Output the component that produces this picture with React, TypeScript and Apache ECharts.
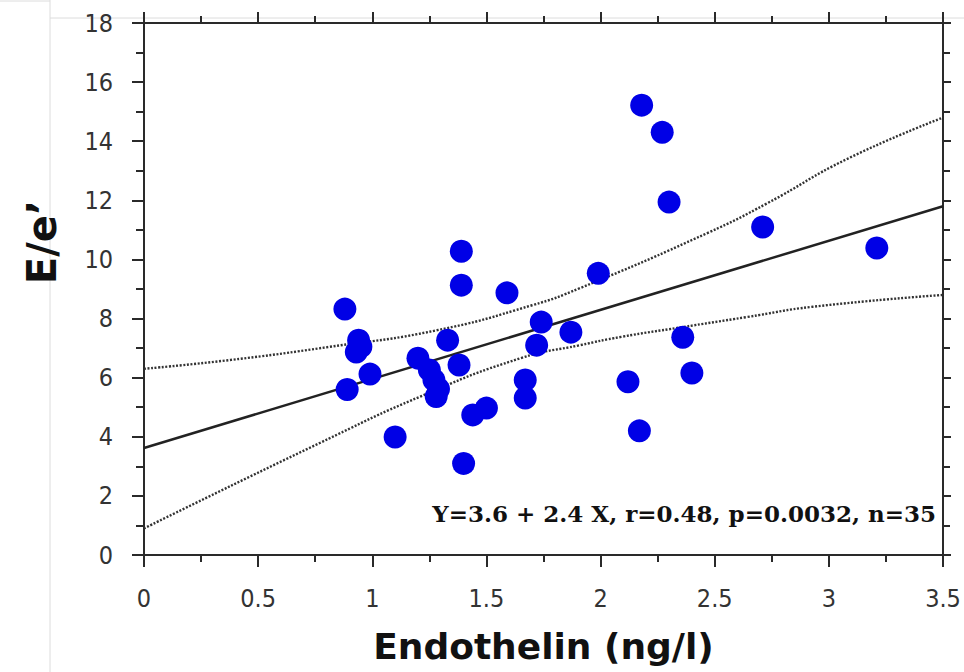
import React, { useEffect, useRef } from "react";
import * as echarts from "echarts";

// Scatter data: Endothelin (ng/l) vs E/e'
const endothelin = [
  0.88, 0.94, 0.93, 0.99, 0.89, 1.1, 1.39, 1.39, 1.59, 1.99,
  1.33, 1.2, 1.25, 1.27, 1.28, 1.29, 1.38, 1.44, 1.5, 1.4,
  1.74, 1.72, 1.87, 1.67, 1.67, 2.12, 2.18, 2.27, 2.3, 2.71,
  3.21, 2.36, 2.4, 2.17, 0.95,
];
const eOverE = [
  8.32, 7.27, 6.87, 6.12, 5.6, 3.99, 10.28, 9.13, 8.87, 9.53,
  7.27, 6.66, 6.26, 5.92, 5.36, 5.62, 6.43, 4.74, 4.97, 3.1,
  7.88, 7.1, 7.54, 5.92, 5.31, 5.86, 15.22, 14.3, 11.94, 11.1,
  10.39, 7.37, 6.16, 4.2, 7.05,
];

// Regression line end points
const fitX = [0, 3.5];
const fitY = [3.62, 11.8];

// Confidence band
const upperX = [0, 0.38, 0.81, 1.28, 1.7, 1.91, 2.47, 2.73, 3.08, 3.5];
const upperY = [6.3, 6.6, 7.04, 7.6, 8.45, 9.03, 10.9, 11.9, 13.4, 14.8];
const lowerX = [0, 0.77, 1.21, 1.65, 1.91, 2.09, 2.35, 2.64, 2.93, 3.5];
const lowerY = [0.9, 3.79, 5.36, 6.66, 7.1, 7.38, 7.7, 8.05, 8.4, 8.8];

const xMin = 0;
const xMax = 3.5;
const xStep = 0.5;
const yMin = 0;
const yMax = 18;
const yStep = 2;

const xTitle = "Endothelin (ng/l)";
const yTitle = "E/e\u2019";
const note = "Y=3.6 + 2.4 X, r=0.48, p=0.0032, n=35";

const zip = (a: number[], b: number[]) => a.map((v, i) => [v, b[i]]);

export default function App() {
  const ref = useRef<HTMLDivElement>(null);
  useEffect(() => {
    if (!ref.current) return;
    const chart = echarts.init(ref.current, undefined, { renderer: "svg" });
    const axisColor = "#2a2a2a";
    const labelFont = {
      color: "#333",
      fontSize: 25,
      fontFamily: "'Liberation Sans Narrow', 'DejaVu Sans Condensed', sans-serif",
    };
    const tick = { show: true, inside: false, length: 12, lineStyle: { color: axisColor, width: 2 } };
    const minor = { show: true, splitNumber: 2, length: 7, lineStyle: { color: axisColor, width: 2 } };
    const line = { show: true, onZero: false, lineStyle: { color: axisColor, width: 2 } };
    const band = { color: "#333", width: 2.4, type: [2, 1.6] };
    chart.setOption({
      animation: false,
      backgroundColor: "#fff",
      grid: { left: 144, right: 21, top: 23, bottom: 117, outerBoundsMode: "none", containLabel: false },
      xAxis: [
        {
          type: "value", min: xMin, max: xMax, interval: xStep, position: "bottom",
          axisLine: line, axisTick: tick, minorTick: minor, splitLine: { show: false },
          axisLabel: { ...labelFont, margin: 31 },
          name: xTitle, nameLocation: "middle", nameGap: 73,
          nameTextStyle: { fontFamily: "'DejaVu Sans', sans-serif", fontWeight: "bold", fontSize: 36, color: "#111" },
        },
        {
          type: "value", min: xMin, max: xMax, interval: xStep, position: "top",
          axisLine: line, axisTick: { ...tick, length: 11 }, minorTick: minor, splitLine: { show: false },
          axisLabel: { show: false },
        },
      ],
      yAxis: [
        {
          type: "value", min: yMin, max: yMax, interval: yStep, position: "left",
          axisLine: line, axisTick: tick, minorTick: { ...minor, length: 8 }, splitLine: { show: false },
          axisLabel: { ...labelFont, margin: 31 },
        },
        {
          type: "value", min: yMin, max: yMax, interval: yStep, position: "right",
          axisLine: line, axisTick: { ...tick, length: 8 }, minorTick: { ...minor, length: 7 }, splitLine: { show: false },
          axisLabel: { show: false },
        },
      ],
      series: [
        {
          type: "line", data: zip(upperX, upperY), smooth: true, showSymbol: false, symbol: "none",
          lineStyle: band, z: 2,
        },
        {
          type: "line", data: zip(lowerX, lowerY), smooth: true, showSymbol: false, symbol: "none",
          lineStyle: band, z: 2,
        },
        {
          type: "line", data: zip(fitX, fitY), showSymbol: false, symbol: "none",
          lineStyle: { color: "#222", width: 2.5 }, z: 3,
        },
        {
          type: "scatter", data: zip(endothelin, eOverE), symbolSize: 23,
          itemStyle: { color: "#0000e6", opacity: 1 }, z: 4,
        },
      ],
      graphic: [
        { type: "line", shape: { x1: 50, y1: 0, x2: 50, y2: 672 }, style: { stroke: "#dcdcdc", lineWidth: 1 }, silent: true },
        { type: "line", shape: { x1: 50, y1: 18, x2: 964, y2: 18 }, style: { stroke: "#dcdcdc", lineWidth: 1 }, silent: true },
        { type: "line", shape: { x1: 0, y1: 1, x2: 50, y2: 1 }, style: { stroke: "#dcdcdc", lineWidth: 1 }, silent: true },
        {
          type: "text", x: 42, y: 242, rotation: Math.PI / 2, z: 10,
          style: {
            text: yTitle, fill: "#111", fontSize: 40, fontWeight: "bold",
            fontFamily: "'DejaVu Sans', sans-serif", align: "center", verticalAlign: "middle",
          },
        },
        {
          type: "text", x: 936, y: 513, z: 10,
          style: {
            text: note, fill: "#111", fontSize: 23, fontWeight: "bold",
            fontFamily: "'DejaVu Serif', 'Liberation Serif', serif", align: "right", verticalAlign: "middle",
          },
        },
      ],
    });
    return () => chart.dispose();
  }, []);
  return (
    <div
      ref={ref}
      style={{ position: "fixed", left: 0, top: 0, width: 964, height: 672, background: "#fff" }}
    />
  );
}
